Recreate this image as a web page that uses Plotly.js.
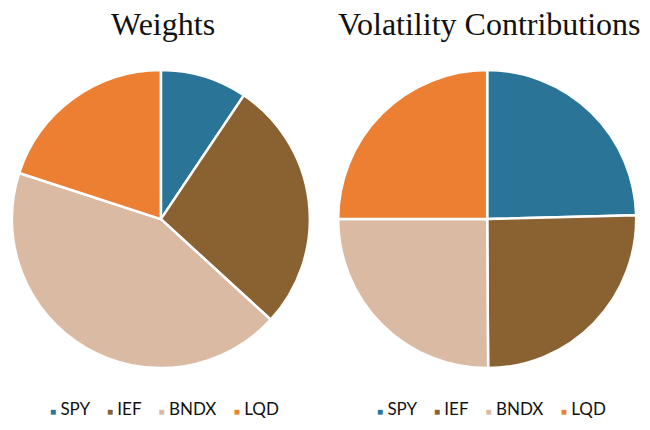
<!DOCTYPE html>
<html>
<head>
<meta charset="utf-8">
<script src="https://cdn.plot.ly/plotly-3.0.1.min.js"></script>
<style>
  html, body { margin: 0; padding: 0; background: #fff; }
  #chart { width: 650px; height: 430px; }
</style>
</head>
<body>
<div id="chart"></div>
<script>
// tickers and slice colours
var tickers = ["SPY", "IEF", "BNDX", "LQD"];
var colors = ["#2a7498", "#8a6131", "#dbbaa4", "#ed7f33"];

// portfolio weights (%) and each asset's share of volatility (%)
var weights = [9.4, 27.4, 43.2, 20.0];
var volContrib = [24.6, 25.3, 25.1, 25.0];

var titles = ["Weights", "Volatility Contributions"];

// pie placement in paper coords
var domainsX = [[0.018, 0.477], [0.52, 0.979]];
var domainY = [0.144, 0.837];

var series = [weights, volContrib];
var data = [];
var annotations = [];

series.forEach(function (vals, i) {
  data.push({
    type: "pie",
    labels: tickers,
    values: vals,
    sort: false,
    direction: "clockwise",
    rotation: 0,
    textinfo: "none",
    hoverinfo: "label+percent",
    marker: { colors: colors, line: { color: "#ffffff", width: 2.5 } },
    domain: { x: domainsX[i], y: domainY },
    showlegend: false
  });

  var cx = (domainsX[i][0] + domainsX[i][1]) / 2;

  // title above each pie
  annotations.push({
    text: titles[i],
    x: cx + 0.003, y: 0.944,
    xref: "paper", yref: "paper",
    xanchor: "center", yanchor: "middle",
    showarrow: false,
    font: { family: "Liberation Serif, serif", size: 32, color: "#111" }
  });

  // hand built legend row under each pie
  var parts = tickers.map(function (t, k) {
    return '<span style="color:' + colors[k] + ';font-size:10px">■</span> ' + t;
  });
  annotations.push({
    text: parts.join("&nbsp;&nbsp;&nbsp;&nbsp;"),
    x: cx + 0.006, y: 0.051,
    xref: "paper", yref: "paper",
    xanchor: "center", yanchor: "middle",
    showarrow: false,
    font: { family: "Lato, Open Sans, sans-serif", size: 17, color: "#111" }
  });
});

var layout = {
  width: 650,
  height: 430,
  margin: { l: 0, r: 0, t: 0, b: 0 },
  paper_bgcolor: "#ffffff",
  annotations: annotations
};

Plotly.newPlot("chart", data, layout, { displayModeBar: false });
</script>
</body>
</html>
